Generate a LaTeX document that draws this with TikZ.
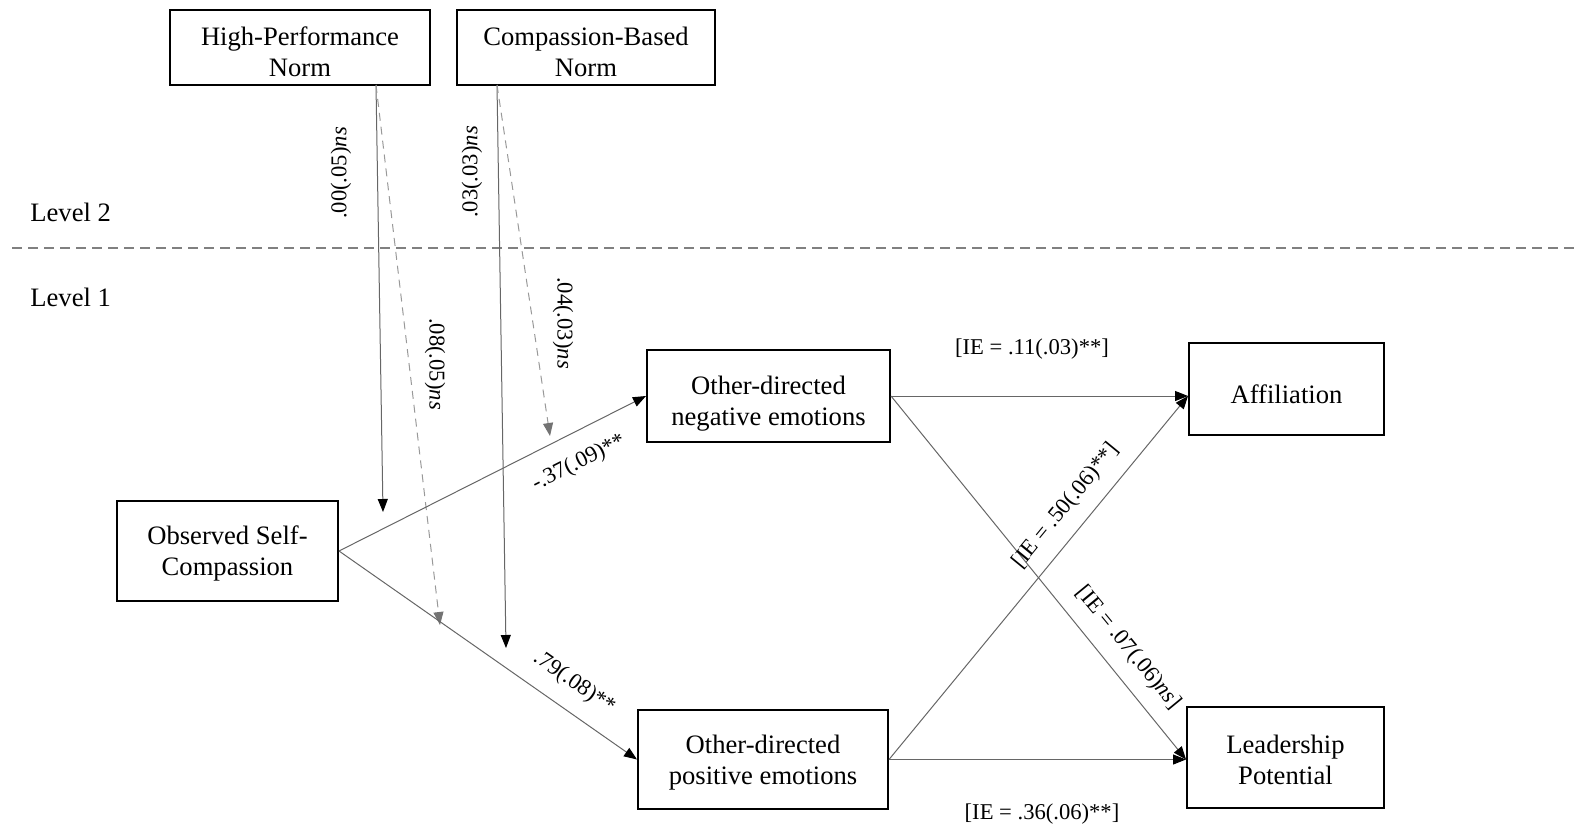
\documentclass[tikz,border=0pt]{standalone}
\usepackage{fontspec}
\setmainfont{Liberation Serif}
\usetikzlibrary{arrows.meta}
\tikzset{
  box/.style={draw=black, line width=1pt, rectangle, inner sep=0pt},
  btxt/.style={align=center, inner sep=0pt, font=\fontsize{13.3}{15.5}\selectfont},
  boxtext/.style 2 args={label={[btxt, yshift=-#1]center:{#2}}},
  conn/.style={draw=black!60, line width=0.5pt, -{Triangle[length=6.5pt,width=5pt,color=black]}},
  dconn/.style={draw=black!40, line width=0.5pt, dash pattern=on 4pt off 3pt,
    -{Triangle[length=6.5pt,width=5pt,color=black!55]}},
  lab/.style={font=\fontsize{11.3}{13}\selectfont, inner sep=0pt},
  lvl/.style={font=\fontsize{13.3}{15}\selectfont, anchor=west, inner sep=0pt},
}
\begin{document}
\begin{tikzpicture}[x=0.5pt,y=-0.5pt]
\useasboundingbox (0,0) rectangle (1579,830);
% boxes
\node[box, minimum width=130pt, minimum height=37.5pt, boxtext={2pt}{High-Performance\\Norm}] (hpn) at (300,47.5) {};
\node[box, minimum width=129pt, minimum height=37.5pt, boxtext={2pt}{Compassion-Based\\Norm}] (cbn) at (586,47.5) {};
\node[box, minimum width=110.5pt, minimum height=50pt, boxtext={1pt}{Observed Self-\\Compassion}] (osc) at (227.5,551) {};
\node[box, minimum width=121.5pt, minimum height=46pt, boxtext={4pt}{Other-directed\\negative emotions}] (odn) at (768.5,396) {};
\node[box, minimum width=125pt, minimum height=49.5pt, boxtext={1.4pt}{Other-directed\\positive emotions}] (odp) at (763,759.5) {};
\node[box, minimum width=97.5pt, minimum height=46pt, boxtext={2.5pt}{Affiliation}] (aff) at (1286.5,389) {};
\node[box, minimum width=98.5pt, minimum height=50.5pt, boxtext={1pt}{Leadership\\Potential}] (lp) at (1285.5,757.5) {};
% level separator
\coordinate (sepl) at (12,248);
\coordinate (sepr) at (1579,248);
\draw[draw=black!50, line width=0.6pt, dash pattern=on 5pt off 3pt] (sepl) -- (sepr);
\node[lvl] (lv2) at (30,212) {Level 2};
\node[lvl] (lv1) at (30,297) {Level 1};
% moderator source points
\coordinate (hpnout) at (376,85);
\coordinate (cbnout) at (497,85);
\coordinate (hpnend) at (383,512);
\coordinate (hpndend) at (440,625);
\coordinate (cbnend) at (506,648);
\coordinate (cbndend) at (550,436);
\draw[conn] (hpnout) -- (hpnend);
\draw[dconn] (hpnout) -- (hpndend);
\draw[conn] (cbnout) -- (cbnend);
\draw[dconn] (cbnout) -- (cbndend);
% a paths
\draw[conn] (osc.east) -- (odn.west);
\draw[conn] (osc.east) -- (odp.west);
% b paths
\coordinate (affin) at (odn.east -| aff.west);
\coordinate (lpin) at (odp.east -| lp.west);
\draw[conn] (odn.east) -- (affin);
\draw[conn] (odn.east) -- (lpin);
\draw[conn] (odp.east) -- (affin);
\draw[conn] (odp.east) -- (lpin);
% labels
\node[lab, rotate=90] (l1) at (341,173) {.00(.05)\textit{ns}};
\node[lab, rotate=90] (l2) at (472,172) {.03(.03)\textit{ns}};
\node[lab, rotate=-90] (l3) at (435,364) {.08(.05)\textit{ns}};
\node[lab, rotate=-90] (l4) at (563,323) {.04(.03)\textit{ns}};
\node[lab, rotate=26.8] (l5) at (579,463) {-.37(.09)**};
\node[lab, rotate=-35] (l6) at (574,683) {.79(.08)**};
\node[lab] (l7) at (1032,349) {[IE = .11(.03)**]};
\node[lab, rotate=50.7] (l8) at (1066,506) {[IE = .50(.06)**]};
\node[lab, rotate=-50.6] (l9) at (1128,648) {[IE = .07(.06)\textit{ns}]};
\node[lab] (l10) at (1042,814) {[IE = .36(.06)**]};
\end{tikzpicture}
\end{document}
